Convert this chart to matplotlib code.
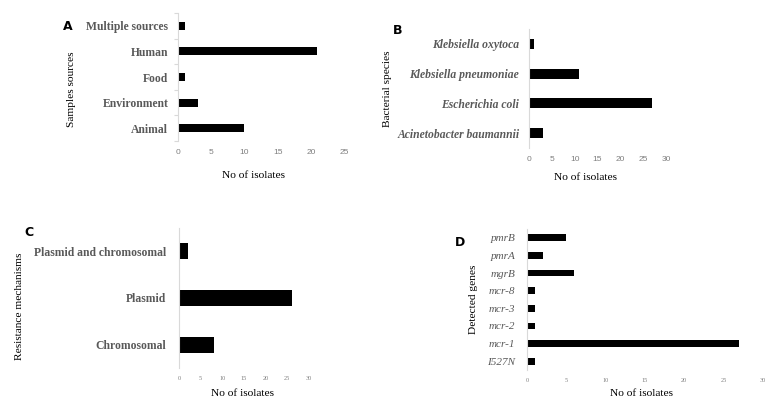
import matplotlib
matplotlib.use("Agg")
import matplotlib.pyplot as plt

W, H = 779, 413

# panel A: sample sources (bottom to top)
sources = ["Animal", "Environment", "Food", "Human", "Multiple sources"]
source_counts = [10, 3, 1, 21, 1]

# panel B: bacterial species
species = ["Acinetobacter baumannii", "Escherichia coli",
           "Klebsiella pneumoniae", "Klebsiella oxytoca"]
species_counts = [3, 27, 11, 1]

# panel C: resistance mechanisms
mechanisms = ["Chromosomal", "Plasmid", "Plasmid and chromosomal"]
mechanism_counts = [8, 26, 2]

# panel D: detected genes
genes = ["I527N", "mcr-1", "mcr-2", "mcr-3", "mcr-8", "mgrB", "pmrA", "pmrB"]
gene_counts = [1, 27, 1, 1, 1, 6, 2, 5]

SERIF = "Liberation Serif"
GREY = "#595959"


def px_axes(fig, left, top, right, bottom):
    return fig.add_axes([left / W, 1 - bottom / H, (right - left) / W, (bottom - top) / H])


def style(ax, xmax, ticks, tick_font, tick_size, bar_h, cats, vals,
          lab_style, lab_weight, lab_size, pad, boundary_ticks=False):
    y = range(len(cats))
    ax.barh(y, vals, height=bar_h, color="black")
    ax.set_xlim(0, xmax)
    ax.set_ylim(-0.5, len(cats) - 0.5)
    for s in ["top", "right", "bottom"]:
        ax.spines[s].set_visible(False)
    ax.spines["left"].set_color("#d9d9d9")
    ax.spines["left"].set_linewidth(0.8)
    ax.set_xticks(ticks)
    ax.set_xticklabels([str(t) for t in ticks], fontsize=tick_size,
                       family=tick_font, color="#7f7f7f")
    ax.tick_params(axis="x", length=0, pad=6)
    ax.set_yticks(list(y))
    ax.set_yticklabels(cats, fontsize=lab_size, family=SERIF, style=lab_style,
                       weight=lab_weight, color=GREY)
    ax.tick_params(axis="y", length=0, pad=pad)
    if boundary_ticks:
        ax.set_yticks([i - 0.5 for i in range(len(cats) + 1)], minor=True)
        ax.tick_params(axis="y", which="minor", length=3, color="#d9d9d9", width=0.8)
    ax.patch.set_alpha(0)


fig = plt.figure(figsize=(W / 100, H / 100), dpi=100)

# A
axA = px_axes(fig, 178, 13, 344, 141)
style(axA, 25, [0, 5, 10, 15, 20, 25], "Liberation Sans", 6, 0.32,
      sources, source_counts, "normal", "bold", 8.4, 7, boundary_ticks=True)
fig.text(71 / W, 1 - 89 / H, "Samples sources", rotation=90, ha="center", va="center",
         family=SERIF, fontsize=8.2)
fig.text(254 / W, 1 - 175 / H, "No of isolates", ha="center", va="center",
         family=SERIF, fontsize=8.2)
fig.text(68 / W, 1 - 26 / H, "A", ha="center", va="center", family="DejaVu Sans",
         weight="bold", fontsize=9)

# B
axB = px_axes(fig, 529, 29, 666, 148)
style(axB, 30, [0, 5, 10, 15, 20, 25, 30], "Liberation Sans", 6, 0.33,
      species, species_counts, "italic", "bold", 8.4, 7)
fig.text(388 / W, 1 - 89 / H, "Bacterial species", rotation=90, ha="center", va="center",
         family=SERIF, fontsize=8.2)
fig.text(585 / W, 1 - 177 / H, "No of isolates", ha="center", va="center",
         family=SERIF, fontsize=8.2)
fig.text(398 / W, 1 - 31 / H, "B", ha="center", va="center", family="DejaVu Sans",
         weight="bold", fontsize=9)

# C
axC = px_axes(fig, 179, 228, 309, 368)
style(axC, 30, [0, 5, 10, 15, 20, 25, 30], SERIF, 4.5, 0.34,
      mechanisms, mechanism_counts, "normal", "bold", 8.4, 9.4)
fig.text(20 / W, 1 - 306 / H, "Resistance mechanisms", rotation=90, ha="center",
         va="center", family=SERIF, fontsize=8.2)
fig.text(243 / W, 1 - 393 / H, "No of isolates", ha="center", va="center",
         family=SERIF, fontsize=8.2)
fig.text(29 / W, 1 - 232 / H, "C", ha="center", va="center", family="DejaVu Sans",
         weight="bold", fontsize=9)

# D
axD = px_axes(fig, 527, 229, 763, 370)
style(axD, 30, [0, 5, 10, 15, 20, 25, 30], SERIF, 4.5, 0.38,
      genes, gene_counts, "italic", "normal", 8, 8.5)
fig.text(473 / W, 1 - 299 / H, "Detected genes", rotation=90, ha="center", va="center",
         family=SERIF, fontsize=8.2)
fig.text(641 / W, 1 - 393 / H, "No of isolates", ha="center", va="center",
         family=SERIF, fontsize=8.2)
fig.text(460 / W, 1 - 242 / H, "D", ha="center", va="center", family="DejaVu Sans",
         weight="bold", fontsize=9)

fig.savefig("out.png", dpi=100)
